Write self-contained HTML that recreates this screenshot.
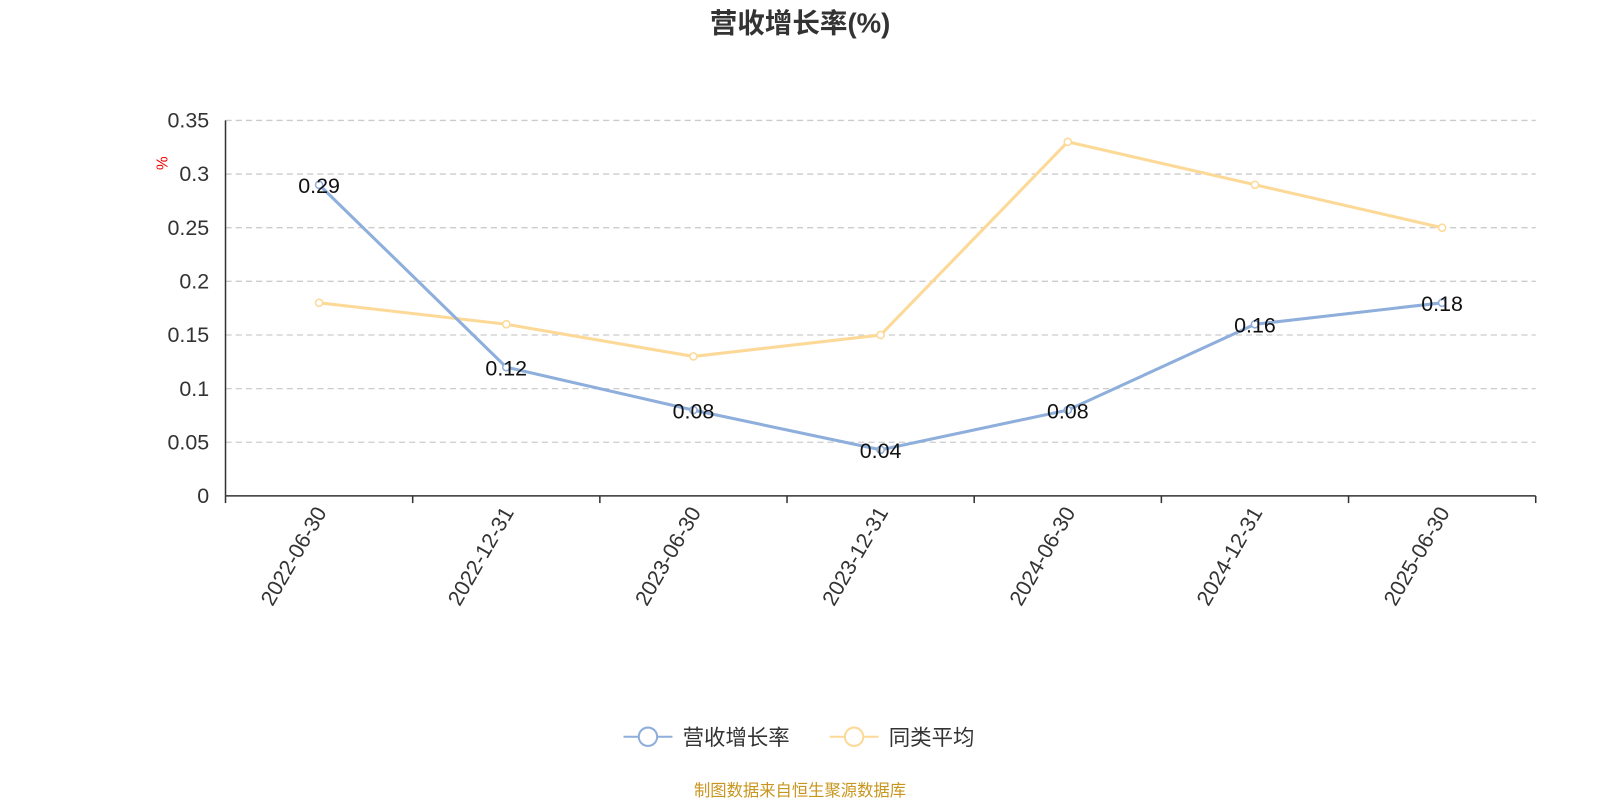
<!DOCTYPE html>
<html><head><meta charset="utf-8"><style>
body{margin:0;background:#fff;}
svg{display:block;font-family:"Liberation Sans","Noto Sans CJK SC",sans-serif;}
</style></head><body>
<svg id="chart" width="1600" height="800" viewBox="0 0 1568 784" preserveAspectRatio="none">
<text x="784" y="32" text-anchor="middle" font-size="27" font-weight="bold" fill="#333">营收增长率(%)</text>
<text x="0" y="0" transform="translate(164,160) rotate(-90)" text-anchor="middle" font-size="15" fill="#e00">%</text>
<g id="grid"></g><g id="axes"></g><g id="series"></g>
<g>
<g>
<line x1="611" y1="722" x2="659" y2="722" stroke="#8eaedb" stroke-width="2"/>
<circle cx="635" cy="722" r="9" fill="#fff" stroke="#8eaedb" stroke-width="2"/>
<text x="669" y="730" font-size="21" fill="#333">营收增长率</text></g>
<g>
<line x1="813" y1="722" x2="861" y2="722" stroke="#fdd998" stroke-width="2"/>
<circle cx="837" cy="722" r="9" fill="#fff" stroke="#fdd998" stroke-width="2"/>
<text x="871" y="730" font-size="21" fill="#333">同类平均</text></g>
</g>
<text x="784" y="780" text-anchor="middle" font-size="16" fill="#c8961e">制图数据来自恒生聚源数据库</text>
</svg>
<script>
const categories=["2022-06-30","2022-12-31","2023-06-30","2023-12-31","2024-06-30","2024-12-31","2025-06-30"];
const revenueGrowth=[0.29,0.12,0.08,0.043,0.08,0.16,0.18];
const revenueLabels=["0.29","0.12","0.08","0.04","0.08","0.16","0.18"];
const peerAverage=[0.18,0.16,0.13,0.15,0.33,0.29,0.25];
const yTicks=[0,0.05,0.1,0.15,0.2,0.25,0.3,0.35];
const yTickLabels=["0","0.05","0.1","0.15","0.2","0.25","0.3","0.35"];
const NS="http://www.w3.org/2000/svg";
const X0=221,X1=1505,Y0=486,Y1=118,YMAX=0.35;
const band=(X1-X0)/categories.length;
const xs=i=>X0+band*(i+0.5);
const ys=v=>Y0-(v/YMAX)*(Y0-Y1);
function mk(tag,attrs,parent){const e=document.createElementNS(NS,tag);for(const k in attrs)e.setAttribute(k,attrs[k]);parent.appendChild(e);return e;}
const grid=document.getElementById('grid'),axes=document.getElementById('axes'),series=document.getElementById('series');
yTicks.forEach((t,i)=>{
  if(t>0){const l=mk('line',{x1:X0,x2:X1,y1:ys(t),y2:ys(t),stroke:'#ccc','stroke-dasharray':'6,4','stroke-width':1.3},grid);
  
  }
  const tx=mk('text',{x:205,y:ys(t)+7,'text-anchor':'end','font-size':21,fill:'#333'},axes);
  tx.textContent=yTickLabels[i];
  
  
});
const ya=mk('line',{x1:X0,x2:X0,y1:Y1,y2:Y0,stroke:'#333','stroke-width':1.5},axes);


const xa=mk('line',{x1:X0,x2:X1,y1:Y0,y2:Y0,stroke:'#333','stroke-width':1.5},axes);


for(let i=0;i<=categories.length;i++){const x=X0+band*i;mk('line',{x1:x,x2:x,y1:Y0,y2:Y0+7,stroke:'#333','stroke-width':1.5},axes);}
categories.forEach((c,i)=>{
  const t=mk('text',{transform:`translate(${xs(i)+8},${Y0+16}) rotate(-60)`,'text-anchor':'end','font-size':21,fill:'#333'},axes);
  t.textContent=c;
  
  
});
function drawSeries(vals,color,name,labels){
  const p=mk('polyline',{points:vals.map((v,i)=>xs(i)+','+ys(v)).join(' '),fill:'none',stroke:color,'stroke-width':3},series);
  
  
  vals.forEach((v,i)=>{
    const c=mk('circle',{cx:xs(i),cy:ys(v),r:3.5,fill:'#fff',stroke:color,'stroke-width':1.5},series);
    
    
    if(labels){const t=mk('text',{x:xs(i),y:ys(v)+8,'text-anchor':'middle','font-size':21,fill:'#111'},series);
      t.textContent=labels[i];
      
      }
  });
}
drawSeries(peerAverage,'#fdd998','peer-average',null);
drawSeries(revenueGrowth,'#8eaedb','revenue-growth',revenueLabels);
</script>
</body></html>
